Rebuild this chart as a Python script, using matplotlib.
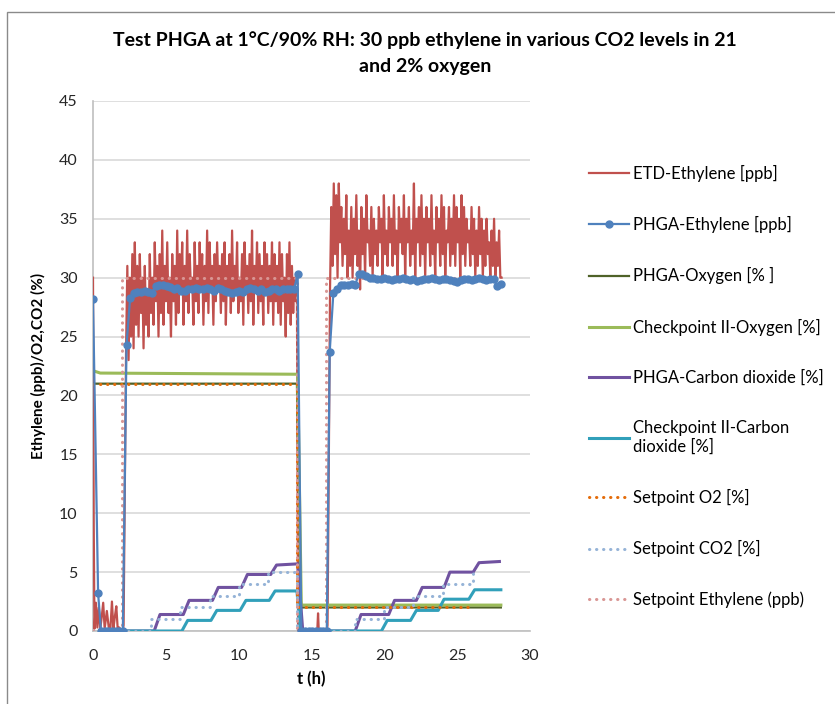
import numpy as np
import matplotlib
matplotlib.use('Agg')
import matplotlib.pyplot as plt
from matplotlib.patches import Rectangle

plt.rcParams['font.family'] = ['Lato', 'DejaVu Sans']

# ETD ethylene: start-up, first dosing period, purge, second dosing period
etd_start_t = [0.0, 0.05, 0.1, 0.2, 0.3, 0.4, 0.5, 0.6, 0.7, 0.8, 0.95, 1.1, 1.2, 1.3, 1.4, 1.5, 1.6, 1.7, 1.8, 1.9, 2.05]
etd_start = [30, 9, 0.2, 2.4, 0.3, 2.0, 0.2, 1.2, 2.4, 0.2, 1.7, 0.1, 0.3, 2.5, 0.2, 1.2, 2.1, 0.1, 0.3, 0.1, 0]

etd_run1 = [0.5, 12, 24, 31, 23, 30, 25, 32, 24, 33, 26, 31, 25, 32, 27, 30, 24, 31, 26, 29,
            25, 32, 27, 30, 26, 33, 28, 31, 25, 32, 27, 34, 26, 31, 28, 33, 27, 30, 25, 32,
            28, 31, 26, 34, 27, 32, 29, 33, 26, 31, 28, 34, 27, 32, 29, 30, 26, 33, 28, 31,
            27, 33, 29, 32, 26, 31, 28, 34, 27, 33, 29, 31, 26, 32, 28, 33, 29, 31, 27, 32,
            28, 33, 26, 31, 29, 32, 27, 34, 28, 31, 29, 33, 27, 30, 28, 32, 26, 33, 29, 31,
            27, 32, 28, 34, 26, 31, 29, 33, 27, 32, 28, 31, 26, 33, 29, 32, 27, 31, 28, 33,
            26, 32, 28, 31, 27, 33, 26, 32, 28, 30, 25, 32, 27, 33, 26, 31, 27, 30, 28, 29]

etd_purge_t = [14.08, 14.2, 14.5, 14.8, 15.1, 15.4, 15.45, 15.5, 15.8, 16.05]
etd_purge = [0, 0.2, 0, 0.1, 0, 0.1, 1.5, 0, 0.1, 0]

etd_run2 = [0.5, 14, 29, 36, 31, 38, 32, 37, 30, 38, 33, 36, 31, 35, 32, 37, 30, 34, 31, 36,
            30, 35, 32, 37, 31, 34, 29, 36, 32, 35, 30, 37, 33, 34, 31, 36, 30, 35, 32, 34,
            31, 36, 33, 35, 30, 37, 32, 34, 31, 36, 33, 35, 31, 37, 32, 34, 30, 36, 33, 35,
            32, 37, 30, 35, 33, 36, 31, 34, 32, 38, 30, 35, 33, 36, 31, 37, 32, 35, 30, 36,
            33, 35, 31, 37, 32, 34, 30, 36, 33, 35, 31, 37, 32, 36, 30, 34, 33, 36, 31, 35,
            32, 37, 31, 36, 33, 35, 30, 37, 32, 36, 31, 35, 33, 34, 31, 36, 32, 35, 30, 34,
            31, 36, 32, 35, 30, 34, 31, 35, 32, 33, 30, 34, 31, 35, 30, 33, 31, 34, 30, 30]

# PHGA ethylene readings
phga_t = [0.0, 0.35, 0.55, 0.8, 1.05, 1.3, 1.55, 1.8, 2.05, 2.3,
          2.55, 2.8, 3.05, 3.3, 3.55, 3.8, 4.05, 4.3, 4.55, 4.8, 5.05, 5.3, 5.55, 5.8,
          6.05, 6.3, 6.55, 6.8, 7.05, 7.3, 7.55, 7.8, 8.05, 8.3, 8.55, 8.8, 9.05, 9.3,
          9.55, 9.8, 10.05, 10.3, 10.55, 10.8, 11.05, 11.3, 11.55, 11.8, 12.05, 12.3,
          12.55, 12.8, 13.05, 13.3, 13.55, 13.8, 14.05, 14.3, 14.55, 14.8, 15.05, 15.3,
          15.55, 15.8, 16.05, 16.25, 16.5, 16.75, 17.0, 17.25, 17.5, 17.75, 18.0, 18.25,
          18.5, 18.75, 19.0, 19.25, 19.5, 19.75, 20.0, 20.25, 20.5, 20.75, 21.0, 21.25,
          21.5, 21.75, 22.0, 22.25, 22.5, 22.75, 23.0, 23.25, 23.5, 23.75, 24.0, 24.25,
          24.5, 24.75, 25.0, 25.25, 25.5, 25.75, 26.0, 26.25, 26.5, 26.75, 27.0, 27.25,
          27.5, 27.75, 28.0]
phga_eth = [28.2, 3.2, 0, 0, 0, 0, 0, 0, 0, 24.3,
            28.3, 28.7, 28.8, 28.8, 28.9, 28.8, 28.7, 29.3, 29.4, 29.4, 29.3, 29.2, 29.0, 29.1,
            28.9, 28.9, 29.0, 29.0, 29.1, 29.0, 29.0, 29.1, 29.0, 28.9, 29.1, 29.0, 28.9, 28.8,
            28.7, 28.8, 28.9, 28.8, 29.0, 29.1, 29.0, 28.9, 29.0, 28.8, 28.9, 29.0,
            29.0, 28.9, 29.0, 29.0, 29.0, 29.0, 30.3, 0, 0, 0, 0, 0,
            0, 0, 0, 23.7, 28.7, 29.0, 29.4, 29.4, 29.4, 29.5, 29.4, 30.3,
            30.3, 30.1, 30.0, 30.0, 29.9, 29.9, 30.0, 29.9, 29.8, 29.9, 29.9, 30.0,
            29.9, 29.8, 29.9, 29.7, 29.8, 29.9, 29.9, 30.0, 29.9, 29.8, 29.9, 29.9,
            29.8, 29.7, 29.6, 29.8, 29.9, 29.9, 29.8, 29.9, 30.0, 29.9, 29.8, 29.9,
            29.9, 29.3, 29.5]

# oxygen
phga_o2_t = [0.0, 14.0, 14.25, 28.0]
phga_o2 = [21.0, 21.0, 2.0, 2.0]
cp_o2_t = [0.0, 0.5, 14.05, 14.3, 28.0]
cp_o2 = [22.1, 21.9, 21.8, 2.2, 2.2]

# carbon dioxide
phga_co2_t = [0.5, 4.2, 4.6, 6.2, 6.6, 8.2, 8.6, 10.2, 10.6, 12.2, 12.6, 14.05, 14.4, 16.0,
              18.0, 18.4, 20.3, 20.7, 22.2, 22.6, 24.1, 24.5, 26.1, 26.5, 27.9]
phga_co2 = [0, 0, 1.4, 1.4, 2.6, 2.6, 3.7, 3.7, 4.8, 4.8, 5.6, 5.7, 0, 0,
            0, 1.4, 1.4, 2.6, 2.6, 3.7, 3.7, 5.0, 5.0, 5.8, 5.9]
cp_co2_t = [0.5, 6.1, 6.5, 8.1, 8.5, 10.1, 10.5, 12.1, 12.5, 14.0, 14.25, 16.0,
            19.8, 20.2, 21.8, 22.2, 23.7, 24.1, 25.8, 26.2, 28.0]
cp_co2 = [0, 0, 0.9, 0.9, 1.75, 1.75, 2.6, 2.6, 3.4, 3.4, 0, 0,
          0, 0.9, 0.9, 1.75, 1.75, 2.7, 2.7, 3.5, 3.5]

# setpoints
sp_o2_t = [0.0, 14.0, 14.0, 26.1]
sp_o2 = [21, 21, 2, 2]
sp_co2_t = [0.0, 4.0, 4.0, 6.0, 6.0, 8.0, 8.0, 10.0, 10.0, 12.0, 12.0, 14.0, 14.0,
            18.0, 18.0, 20.0, 20.0, 22.0, 22.0, 24.0, 24.0, 26.1, 26.1]
sp_co2 = [0, 0, 1, 1, 2, 2, 3, 3, 4, 4, 5, 5, 0,
          0, 1, 1, 2, 2, 3, 3, 4, 4, 5]
sp_eth_t = [0.0, 2.0, 2.0, 14.0, 14.0, 16.0, 16.0, 28.0]
sp_eth = [0, 0, 30, 30, 0, 0, 30, 30]

etd_t = np.concatenate([etd_start_t,
                        np.linspace(2.1, 14.0, len(etd_run1)),
                        etd_purge_t,
                        np.linspace(16.1, 28.05, len(etd_run2))])
etd = np.concatenate([etd_start, etd_run1, etd_purge, etd_run2])

fig = plt.figure(figsize=(8.35, 7.04), dpi=100)
ax = fig.add_axes([93 / 835, 1 - 631 / 704, (530 - 93) / 835, (631 - 101) / 704])

dot = (0, (0.1, 2.2))
ax.plot(etd_t, etd, color='#C0504D', lw=1.6, label='ETD-Ethylene [ppb]', zorder=3)
ax.plot(phga_t, phga_eth, color='#4F81BD', lw=1.6, marker='o', ms=5,
        label='PHGA-Ethylene [ppb]', zorder=4)
ax.plot(phga_o2_t, phga_o2, color='#4F6228', lw=1.6, label='PHGA-Oxygen [% ]', zorder=3)
ax.plot(cp_o2_t, cp_o2, color='#9BBB59', lw=2.2, label='Checkpoint II-Oxygen [%]', zorder=3)
ax.plot(phga_co2_t, phga_co2, color='#7052A0', lw=2.2, label='PHGA-Carbon dioxide [%]', zorder=3)
ax.plot(cp_co2_t, cp_co2, color='#31A0BA', lw=2.2,
        label='Checkpoint II-Carbon\ndioxide [%]', zorder=3)
ax.plot(sp_o2_t, sp_o2, color='#E46C0A', lw=2.2, ls=dot, dash_capstyle='round',
        label='Setpoint O2 [%]', zorder=3)
ax.plot(sp_co2_t, sp_co2, color='#95B3D7', lw=2.2, ls=dot, dash_capstyle='round',
        label='Setpoint CO2 [%]', zorder=3)
ax.plot(sp_eth_t, sp_eth, color='#D99694', lw=2.2, ls=dot, dash_capstyle='round',
        label='Setpoint Ethylene (ppb)', zorder=3)

ax.set_xlim(0, 30)
ax.set_ylim(0, 45)
ax.set_xticks(np.arange(0, 31, 5))
ax.set_yticks(np.arange(0, 46, 5))
ax.grid(axis='y', color='#D9D9D9', lw=1.2)
ax.set_axisbelow(True)
for s in ['top', 'right']:
    ax.spines[s].set_visible(False)
ax.spines['left'].set_color('#BFBFBF')
ax.spines['bottom'].set_color('#BFBFBF')
ax.spines['left'].set_linewidth(1.2)
ax.spines['bottom'].set_linewidth(1.2)
ax.tick_params(length=0, labelsize=11.5, colors='#262626')
ax.tick_params(axis='x', pad=13)
ax.tick_params(axis='y', pad=11)

ax.set_xlabel('t (h)', fontsize=12, fontweight='bold', labelpad=6)
ax.set_ylabel('Ethylene (ppb)/O2,CO2 (%)', fontsize=11, fontweight='bold', labelpad=9)
fig.text(0.509, 1 - 53 / 704,
         'Test PHGA at 1°C/90% RH: 30 ppb ethylene in various CO2 levels in 21\nand 2% oxygen',
         ha='center', va='center', fontsize=14, fontweight='bold', linespacing=1.6)

fig.legend(loc='upper left', bbox_to_anchor=(574 / 835, 1 - 150 / 704), frameon=False,
           fontsize=12, handlelength=2.4, handletextpad=0.25, labelspacing=2.05)

fig.patches.append(Rectangle((7 / 835, -0.1), 1.2, 1 - 12 / 704 + 0.1, transform=fig.transFigure,
                             fill=False, edgecolor='#8A8A8A', lw=1.0))

fig.savefig('out.png', dpi=100)
